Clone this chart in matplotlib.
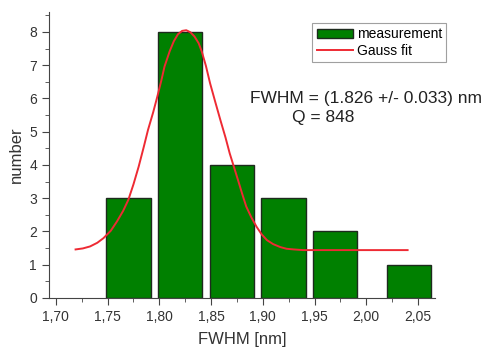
import matplotlib.pyplot as plt
from matplotlib.ticker import MultipleLocator, FuncFormatter

plt.rcParams['font.family'] = ['Liberation Sans', 'DejaVu Sans']

# histogram bars (bin centres and counts)
bin_centers = [1.770, 1.820, 1.870, 1.920, 1.970, 2.0415]
counts = [3, 8, 4, 3, 2, 1]
bar_width = 0.043

# Gauss fit curve
fit_x = [1.719, 1.726, 1.733, 1.740, 1.746, 1.753, 1.759, 1.765, 1.770, 1.775,
         1.780, 1.785, 1.789, 1.794, 1.798, 1.802, 1.805, 1.810, 1.814, 1.818,
         1.822, 1.826, 1.830, 1.834, 1.838, 1.841, 1.845, 1.849, 1.854, 1.859,
         1.864, 1.868, 1.872, 1.876, 1.880, 1.884, 1.889, 1.894, 1.899, 1.904,
         1.910, 1.917, 1.923, 1.930, 1.939, 1.960, 2.000, 2.040]
fit_y = [1.46, 1.49, 1.55, 1.66, 1.80, 2.02, 2.30, 2.62, 2.95, 3.42,
         3.95, 4.55, 5.05, 5.58, 6.05, 6.55, 6.96, 7.42, 7.72, 7.93,
         8.03, 8.05, 7.99, 7.86, 7.66, 7.41, 6.98, 6.46, 5.90, 5.35,
         4.82, 4.35, 3.95, 3.55, 3.14, 2.75, 2.42, 2.14, 1.91, 1.74,
         1.62, 1.53, 1.48, 1.46, 1.44, 1.44, 1.44, 1.44]

fig = plt.figure(figsize=(4.84, 3.51), dpi=100)
ax = fig.add_axes([0.101, 0.151, 0.798, 0.815])

bars = ax.bar(bin_centers, counts, width=bar_width, color='#008000',
              edgecolor='#1e2a1e', linewidth=1.0, label='measurement')
line, = ax.plot(fit_x, fit_y, color='#ee2a33', linewidth=1.4, label='Gauss fit')

ax.set_xlim(1.6932, 2.0666)
ax.set_ylim(0, 8.6)

ax.spines['top'].set_visible(False)
ax.spines['right'].set_visible(False)
for s in ('left', 'bottom'):
    ax.spines[s].set_color('#444444')

ax.xaxis.set_major_locator(MultipleLocator(0.05))
ax.xaxis.set_minor_locator(MultipleLocator(0.025))
ax.yaxis.set_major_locator(MultipleLocator(1))
ax.yaxis.set_minor_locator(MultipleLocator(0.5))
ax.xaxis.set_major_formatter(FuncFormatter(lambda v, p: f'{v:.2f}'.replace('.', ',')))
ax.tick_params(which='major', length=5, color='#444444', labelsize=10, labelcolor='#333333')
ax.tick_params(which='minor', length=3, color='#444444')

ax.set_xlabel('FWHM [nm]', fontsize=12, color='#333333', labelpad=6)
ax.set_ylabel('number', fontsize=12, color='#333333', labelpad=4)

fig.text(0.5165, 0.7066, 'FWHM = (1.826 +/- 0.033) nm', fontsize=12.5,
         color='#222222', va='baseline')
fig.text(0.603, 0.652, 'Q = 848', fontsize=12.5, color='#222222', va='baseline')

leg = ax.legend([bars, line], ['measurement', 'Gauss fit'], loc='upper right',
                bbox_to_anchor=(1.047, 0.985), fontsize=10,
                frameon=True, fancybox=False, edgecolor='#888888',
                handlelength=2.6, borderpad=0.3, labelspacing=0.2, handletextpad=0.3)
leg.get_frame().set_linewidth(0.8)

fig.savefig('out.png', dpi=100)
